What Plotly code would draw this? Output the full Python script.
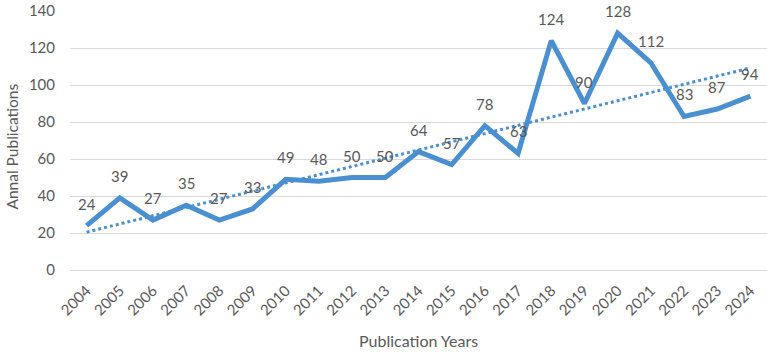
import numpy as np
import plotly.graph_objects as go

years = list(range(2004, 2025))
pubs = [24, 39, 27, 35, 27, 33, 49, 48, 50, 50, 64, 57, 78, 63, 124, 90, 128, 112, 83, 87, 94]
y_ticks = [0, 20, 40, 60, 80, 100, 120, 140]

slope, intercept = np.polyfit(years, pubs, 1)
trend = [slope * y + intercept for y in years]

blue = "#4a8fd0"
gray = "#595959"
font = "Lato"

fig = go.Figure()
fig.add_trace(go.Scatter(x=years, y=pubs, mode="lines",
                         line=dict(color=blue, width=5), showlegend=False))
fig.add_trace(go.Scatter(x=years, y=trend, mode="lines",
                         line=dict(color=blue, width=3, dash="dot"), showlegend=False))
for yr, v in zip(years, pubs):
    fig.add_annotation(x=yr, y=v, text=str(v), showarrow=False, yshift=22,
                       font=dict(size=15, color=gray, family=font))

fig.add_annotation(xref="paper", yref="paper", x=0, y=0.5, xshift=-59, yshift=-6,
                   text="Annal Publications", textangle=-90, showarrow=False,
                   xanchor="center", yanchor="middle",
                   font=dict(size=15.5, color=gray, family=font))
fig.add_annotation(xref="paper", yref="paper", x=0.5, y=0, yshift=-70,
                   text="Publication Years", showarrow=False,
                   xanchor="center", yanchor="middle",
                   font=dict(size=16, color=gray, family=font))

fig.update_layout(
    width=767, height=353,
    margin=dict(l=70, r=0, t=11, b=83),
    plot_bgcolor="white", paper_bgcolor="white",
    font=dict(family=font, color=gray, size=14),
    xaxis=dict(range=[2003.5, 2024.5], tickmode="array", tickvals=years,
               ticktext=[str(y) for y in years], tickangle=-45, showgrid=False,
               showline=False, zeroline=False, ticks="", automargin=False,
               ticklabelstandoff=8, tickfont=dict(size=15, color=gray)),
    yaxis=dict(range=[0, 140], tickvals=y_ticks, showgrid=True, gridcolor="#d9d9d9",
               gridwidth=1, zeroline=True, zerolinecolor="#d9d9d9", zerolinewidth=1,
               automargin=False, ticklabelstandoff=14, tickfont=dict(size=15, color=gray)),
)
fig.write_html("out.html", config={"displayModeBar": False},
               post_script="document.body.style.margin='0';")
